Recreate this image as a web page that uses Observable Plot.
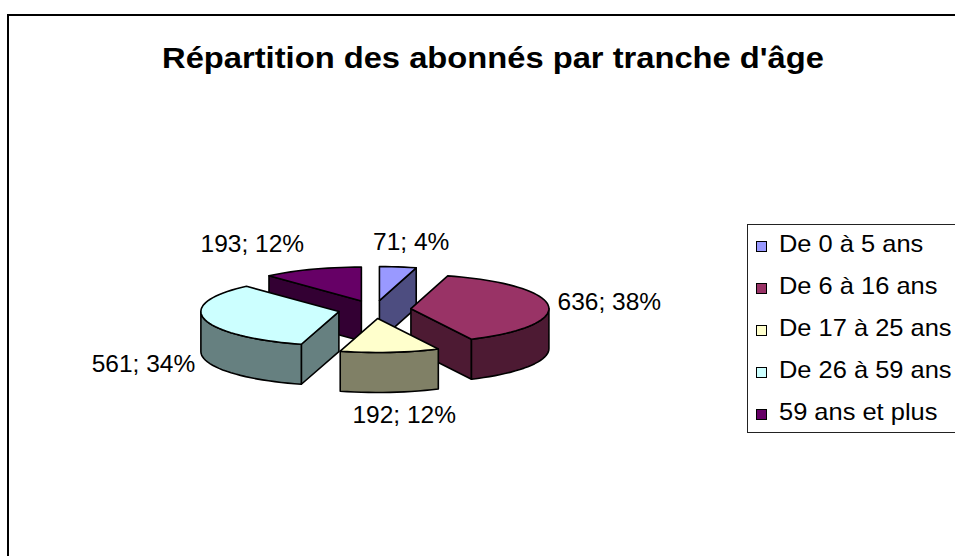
<!DOCTYPE html>
<html>
<head>
<meta charset="utf-8">
<script src="https://cdn.jsdelivr.net/npm/d3@7"></script>
<script src="https://cdn.jsdelivr.net/npm/@observablehq/plot@0.6"></script>
<style>
  body { margin: 0; background: #fff; font-family: "Liberation Sans", Arial, sans-serif; }
  #wrap { position: relative; width: 955px; height: 556px; overflow: hidden; background: #fff; }
  #frame { position: absolute; left: 7px; top: 14px; width: 1000px; height: 600px; border: 2px solid #000; box-sizing: border-box; }
  #title { position: absolute; left: 0; width: 986px; top: 43px; text-align: center; font-weight: bold;
           font-size: 30px; line-height: 30px; white-space: nowrap; transform: scaleX(1.09); transform-origin: 493px 0; }
  #chart { position: absolute; left: 0; top: 0; }
  #legend { position: absolute; left: 747px; top: 224px; width: 240px; height: 209px; border: 1px solid #222; box-sizing: border-box; background: #fff; }
  .item { position: absolute; left: 0; width: 230px; height: 24px; }
  .sw { position: absolute; left: 8px; top: 9px; width: 11px; height: 11px; border: 1px solid #000; box-sizing: border-box; }
  .lab { position: absolute; left: 31px; top: 0; font-size: 24px; line-height: 24px; white-space: nowrap; transform: scaleX(1.06); transform-origin: 0 0; }
</style>
</head>
<body>
<div id="wrap">
  <div id="frame"></div>
  <div id="title"></div>
  <div id="chart"></div>
  <div id="legend"></div>
</div>
<script>
// ---- data ----
const title = "Répartition des abonnés par tranche d'âge";
const categories = ["De 0 à 5 ans", "De 6 à 16 ans", "De 17 à 25 ans", "De 26 à 59 ans", "59 ans et plus"];
const values = [71, 636, 192, 561, 193];
const palette = ["#9999FF", "#993366", "#FFFFCC", "#CCFFFF", "#660066"];

// ---- layout (pixels / pie units) ----
const W = 955, H = 556;
const CX = 374, CY = 309;     // pie centre in pixels
const RX = 138;                // horizontal radius in pixels (1 pie unit)
const TILT = 34 / 138;         // vertical squash of the 3D view
const DEPTH = 40 / 138;        // thickness of the slices
const EXPLODE = 0.265;         // explosion distance
const LABEL_R = 1.6;
const labelShift = [[7, -13], [15, -2], [10, 11], [-16, 2], [-43, -15]]; // px

document.getElementById("title").textContent = title;

const total = d3.sum(values);
const arcs = d3.pie().sort(null).value(d => d)(values);
const side = c => { const r = d3.rgb(c); return d3.rgb(r.r / 2, r.g / 2, r.b / 2).formatHex(); };

const slices = arcs.map((a, i) => {
  const m = (a.startAngle + a.endAngle) / 2;
  return {
    i, a0: a.startAngle, a1: a.endAngle, m,
    ox: EXPLODE * Math.sin(m), oy: -EXPLODE * TILT * Math.cos(m)
  };
});

const points = [];
let pid = 0;
function poly(pts, fill) {
  const id = pid++;
  for (const p of pts) points.push({id, x: p[0], y: p[1], fill});
}
const STEP = Math.PI / 60;
function arcPts(s, a0, a1, z) {
  const n = Math.max(2, Math.ceil((a1 - a0) / STEP));
  const out = [];
  for (let k = 0; k <= n; k++) {
    const t = a0 + (a1 - a0) * k / n;
    out.push([s.ox + Math.sin(t), s.oy - TILT * Math.cos(t) + z]);
  }
  return out;
}

// painter's order: back slices first
const order = slices.slice().sort((a, b) => a.oy - b.oy);
for (const s of order) {
  const top = palette[s.i], dark = side(palette[s.i]);
  const apexT = [s.ox, s.oy], apexB = [s.ox, s.oy + DEPTH];
  const edge = (t, z) => [s.ox + Math.sin(t), s.oy - TILT * Math.cos(t) + z];
  if (Math.sin(s.a0) < -1e-9) poly([apexT, edge(s.a0, 0), edge(s.a0, DEPTH), apexB], dark);
  if (Math.sin(s.a1) > 1e-9) poly([apexT, edge(s.a1, 0), edge(s.a1, DEPTH), apexB], dark);
  const ws = Math.max(s.a0, Math.PI / 2), we = Math.min(s.a1, 3 * Math.PI / 2);
  if (we > ws) {
    const up = arcPts(s, ws, we, 0), down = arcPts(s, ws, we, DEPTH).reverse();
    poly(up.concat(down), dark);
  }
  poly([apexT].concat(arcPts(s, s.a0, s.a1, 0)), top);
}

const labels = slices.map(s => {
  const front = Math.cos(s.m) < 0;
  return {
    x: LABEL_R * Math.sin(s.m) + labelShift[s.i][0] / RX,
    y: -LABEL_R * TILT * Math.cos(s.m) + (front ? DEPTH : 0) + labelShift[s.i][1] / RX,
    text: `${values[s.i]}; ${Math.round(values[s.i] / total * 100)}%`
  };
});

const chart = Plot.plot({
  width: W, height: H, margin: 0,
  x: {domain: [-CX / RX, (W - CX) / RX], range: [0, W], axis: null},
  y: {domain: [-CY / RX, (H - CY) / RX], range: [0, H], axis: null},
  color: {type: "identity"},
  style: {background: "transparent", fontFamily: "Liberation Sans, Arial, sans-serif"},
  marks: [
    Plot.line(points, {x: "x", y: "y", z: "id", fill: "fill", stroke: "#000", strokeWidth: 1.6,
                       curve: "linear-closed", strokeLinejoin: "round"}),
    Plot.text(labels, {x: "x", y: "y", text: "text", fontSize: 24.5, fill: "#000"})
  ]
});
document.getElementById("chart").appendChild(chart);

// legend
const legend = document.getElementById("legend");
categories.forEach((c, i) => {
  const it = document.createElement("div");
  it.className = "item";
  it.style.top = (7 + i * 42) + "px";
  const sw = document.createElement("div");
  sw.className = "sw"; sw.style.background = palette[i];
  const lb = document.createElement("div");
  lb.className = "lab"; lb.textContent = c;
  it.appendChild(sw); it.appendChild(lb);
  legend.appendChild(it);
});
</script>
</body>
</html>
